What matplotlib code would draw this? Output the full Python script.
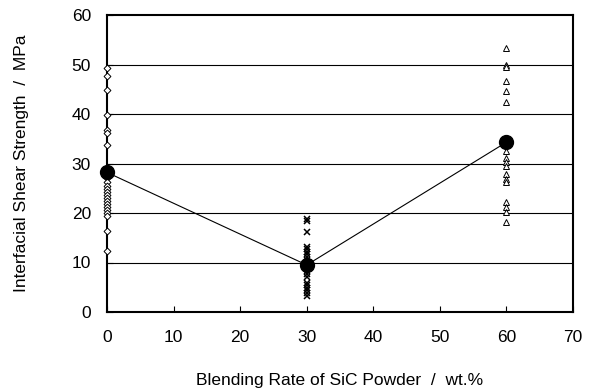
import matplotlib
matplotlib.use("Agg")
import matplotlib.pyplot as plt

plt.rcParams['font.family'] = ['Liberation Sans', 'DejaVu Sans']

# Data
x_ticks = [0, 10, 20, 30, 40, 50, 60, 70]
y_ticks = [0, 10, 20, 30, 40, 50, 60]

vals_0 = [49.3, 47.7, 44.8, 39.7, 36.7, 36.2, 33.8,
          27.0, 26.2, 25.5, 24.9, 24.3, 23.6, 23.0, 22.4, 21.8, 21.2,
          20.6, 20.0, 19.4, 16.3, 12.4]
vals_30 = [18.8, 18.4, 16.2, 13.2, 12.7, 12.2, 11.7, 11.2, 10.6, 10.0,
           9.4, 8.8, 8.2, 7.6, 7.0, 5.9, 5.4, 4.9, 4.4, 3.9, 3.3]
vals_60 = [53.3, 50.0, 49.5, 46.7, 44.6, 42.4, 35.0, 32.5, 31.2, 30.3,
           29.5, 27.8, 26.8, 26.2, 22.3, 21.3, 20.3, 18.1]
mean_x = [0, 30, 60]
mean_y = [28.2, 9.5, 34.3]

fig = plt.figure(figsize=(5.96, 3.90), dpi=100)
ax = fig.add_axes([107/596, 1-312/390, 466/596, 297/390])

ax.set_xlim(0, 70)
ax.set_ylim(0, 60)
ax.set_xticks(x_ticks)
ax.set_yticks(y_ticks)

for yv in y_ticks[1:-1]:
    ax.axhline(yv, color='black', lw=0.8, zorder=1)

ax.plot(mean_x, mean_y, color='black', lw=0.8, zorder=2, clip_on=False)

ax.plot([0]*len(vals_0), vals_0, linestyle='none', marker='D', markersize=3.5,
        markerfacecolor='white', markeredgecolor='black', markeredgewidth=0.7,
        zorder=3, clip_on=False)
ax.plot([30]*len(vals_30), vals_30, linestyle='none', marker='x', markersize=4,
        color='black', markeredgewidth=1.1, zorder=3, clip_on=False)
ax.plot([60]*len(vals_60), vals_60, linestyle='none', marker='^', markersize=5,
        markerfacecolor='white', markeredgecolor='black', markeredgewidth=0.7,
        zorder=3, clip_on=False)
ax.plot(mean_x, mean_y, linestyle='none', marker='o', markersize=10,
        color='black', zorder=4, clip_on=False)

for s in ax.spines.values():
    s.set_linewidth(1.5)
    s.set_zorder(2.5)

ax.tick_params(axis='both', direction='in', length=4, width=0.8, labelsize=12.5)
ax.tick_params(axis='x', pad=13)
ax.tick_params(axis='y', pad=11.5)

ax.set_xlabel('Blending Rate of SiC Powder  /  wt.%', fontsize=12.5)
ax.set_ylabel('Interfacial Shear Strength  /  MPa', fontsize=12.5)
ax.xaxis.set_label_coords(0.5, (312-380)/297)
ax.yaxis.set_label_coords((22-107)/466, 0.5)
ax.xaxis.label.set_va('center')
ax.yaxis.label.set_va('center')

fig.savefig('out.png', dpi=100)
